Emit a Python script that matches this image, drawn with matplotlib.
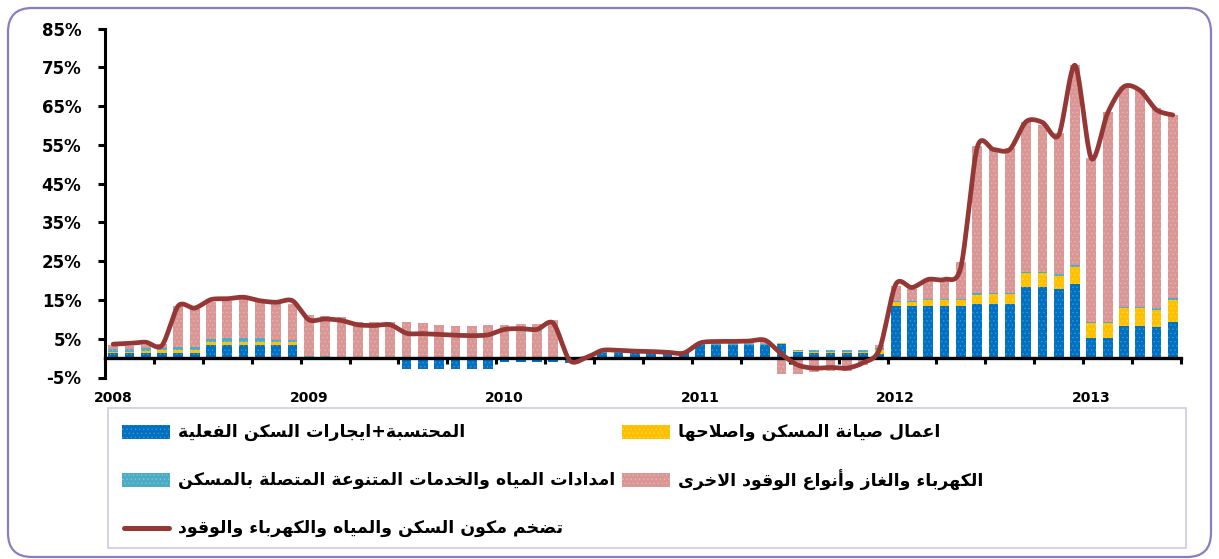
import numpy as np
import matplotlib
matplotlib.use("Agg")
import matplotlib.pyplot as plt
from matplotlib.patches import Rectangle, FancyBboxPatch
from matplotlib.lines import Line2D

# ---------------- data (monthly, Jan 2008 - Jun 2013, %) ----------------
year_labels = ["2008", "2009", "2010", "2011", "2012", "2013"]

rent = [1.4, 1.4, 1.4, 1.4, 1.4, 1.4, 3.3, 3.3, 3.3, 3.3, 3.3, 3.3,
        -0.6, -0.6, -0.6, -0.5, -0.5, -0.4, -2.8, -2.8, -2.8, -2.8, -2.8, -2.8,
        -1.0, -1.0, -1.0, -1.0, -1.2, -0.5, 1.2, 1.2, 1.2, 1.2, 1.2, 1.2,
        3.3, 3.3, 3.4, 3.4, 3.4, 3.7, 1.5, 1.4, 1.2, 1.2, 1.2, 1.1,
        13.5, 13.5, 13.5, 13.5, 13.5, 14.0, 14.0, 14.0, 18.3, 18.3, 17.8, 19.1,
        5.3, 5.3, 8.3, 8.3, 7.9, 9.4]

maintenance = [0.3, 0.3, 0.5, 0.6, 0.6, 0.6, 0.8, 0.9, 0.9, 0.8, 0.8, 0.8,
               0.3, 0.1, 0.1, 0.1, 0.1, 0.1, 0.0, 0.0, 0.0, 0.0, 0.0, 0.0,
               0.0, 0.0, 0.0, 0.0, 0.0, 0.0, 0.1, 0.1, 0.1, 0.1, 0.1, 0.1,
               0.1, 0.1, 0.1, 0.1, 0.1, 0.2, 0.3, 0.3, 0.3, 0.3, 0.3, 1.1,
               0.9, 0.9, 1.5, 1.5, 1.5, 2.4, 2.5, 2.5, 3.6, 3.6, 3.4, 4.3,
               3.7, 3.7, 4.6, 4.6, 4.5, 5.6]

water = [0.7, 0.7, 0.8, 0.7, 0.8, 0.8, 0.8, 1.0, 1.1, 1.1, 0.5, 0.5,
         0.3, 0.4, 0.3, 0.3, 0.2, 0.2, 0.1, 0.1, 0.1, 0.1, 0.1, 0.1,
         0.1, 0.1, 0.1, 0.1, 0.1, 0.1, 0.2, 0.2, 0.2, 0.2, 0.2, 0.2,
         0.2, 0.2, 0.2, 0.2, 0.2, 0.1, 0.3, 0.4, 0.5, 0.5, 0.5, 0.3,
         0.3, 0.3, 0.3, 0.3, 0.3, 0.4, 0.4, 0.4, 0.4, 0.4, 0.5, 0.6,
         0.4, 0.4, 0.4, 0.4, 0.5, 0.4]

electricity = [1.0, 0.6, 0.8, 0.9, 10.6, 9.8, 9.6, 9.6, 9.9, 9.3, 9.4, 9.4,
               10.4, 10.3, 10.2, 9.0, 8.9, 8.9, 9.2, 8.9, 8.5, 8.3, 8.2, 8.5,
               8.5, 8.7, 8.7, 9.6, 0.3, 0.5, 0.5, 0.5, 0.3, 0.2, 0.0, 0.1,
               0.3, 0.7, 0.5, 0.7, 0.9, -4.0, -4.0, -3.5, -3.2, -3.3, -1.7, 0.8,
               3.8, 3.0, 4.8, 4.8, 9.4, 37.8, 36.8, 37.3, 38.7, 37.8, 36.3, 51.5,
               42.2, 54.1, 56.7, 55.8, 51.6, 47.3]

total = [3.6, 3.8, 4.1, 3.3, 13.5, 12.9, 15.1, 15.3, 15.7, 14.8, 14.4, 14.8,
         9.9, 10.1, 9.7, 8.6, 8.4, 8.6, 6.4, 6.3, 6.1, 5.9, 5.8, 6.0,
         7.4, 7.6, 7.4, 9.0, -0.6, 0.1, 2.0, 2.0, 1.8, 1.7, 1.5, 1.3,
         3.9, 4.3, 4.3, 4.4, 4.6, 1.0, -1.8, -2.6, -2.4, -2.6, -1.2, 2.2,
         19.0, 18.2, 20.3, 20.3, 23.5, 54.3, 53.8, 53.8, 61.0, 60.8, 57.5, 75.5,
         51.5, 63.2, 70.0, 69.0, 64.0, 62.7]

legend_labels = [
    "المحتسبة+ايجارات السكن الفعلية",
    "اعمال صيانة المسكن واصلاحها",
    "امدادات المياه والخدمات المتنوعة المتصلة بالمسكن",
    "الكهرباء والغاز وأنواع الوقود الاخرى",
    "تضخم مكون السكن والمياه والكهرباء والوقود",
]

# ---------------- minimal Arabic shaping (matplotlib has no shaping) ----------------
DUAL = {'ب': 0xFE8F, 'ت': 0xFE95, 'ج': 0xFE9D, 'ح': 0xFEA1, 'خ': 0xFEA5, 'س': 0xFEB1,
        'ص': 0xFEB9, 'ض': 0xFEBD, 'ع': 0xFEC9, 'غ': 0xFECD, 'ف': 0xFED1, 'ق': 0xFED5,
        'ك': 0xFED9, 'ل': 0xFEDD, 'م': 0xFEE1, 'ن': 0xFEE5, 'ه': 0xFEE9, 'ي': 0xFEF1}
RIGHT = {'أ': 0xFE83, 'ا': 0xFE8D, 'ة': 0xFE93, 'د': 0xFEA9, 'ر': 0xFEAD, 'ز': 0xFEAF,
         'و': 0xFEED, 'ى': 0xFEEF}
NONE = {'ء': 0xFE80}
LAMALEF = {'ا': 0xFEFB, 'أ': 0xFEF7}


def shape(s):
    out = []
    prev = False
    i, n = 0, len(s)
    while i < n:
        c = s[i]
        if c == 'ل' and i + 1 < n and s[i + 1] in LAMALEF:
            out.append(chr(LAMALEF[s[i + 1]] + (1 if prev else 0)))
            prev = False
            i += 2
            continue
        if c in DUAL:
            nxt = s[i + 1] if i + 1 < n else ''
            conn = nxt in DUAL or nxt in RIGHT
            b = DUAL[c]
            if prev and conn:
                f = b + 3
            elif prev:
                f = b + 1
            elif conn:
                f = b + 2
            else:
                f = b
            out.append(chr(f))
            prev = conn
        elif c in RIGHT:
            out.append(chr(RIGHT[c] + (1 if prev else 0)))
            prev = False
        elif c in NONE:
            out.append(chr(NONE[c]))
            prev = False
        else:
            out.append(c)
            prev = False
        i += 1
    return ''.join(reversed(out))


def smooth(xs, ys, steps=24, k=7.0):
    P = np.column_stack([xs, ys]).astype(float)
    segs = []
    for i in range(len(P) - 1):
        p0 = P[i - 1] if i > 0 else P[i]
        p1, p2 = P[i], P[i + 1]
        p3 = P[i + 2] if i + 2 < len(P) else P[i + 1]
        c1 = p1 + (p2 - p0) / k
        c2 = p2 - (p3 - p1) / k
        t = np.linspace(0, 1, steps)[:, None]
        seg = (1 - t) ** 3 * p1 + 3 * (1 - t) ** 2 * t * c1 + 3 * (1 - t) * t ** 2 * c2 + t ** 3 * p2
        segs.append(seg if i == 0 else seg[1:])
    return np.vstack(segs)


# ---------------- figure ----------------
W, H = 1219, 559
plt.rcParams['hatch.linewidth'] = 0.5
fig = plt.figure(figsize=(W / 100, H / 100), dpi=100)
fig.patch.set_facecolor('white')

ax_l, ax_r, ax_t, ax_b = 105, 1181, 28.5, 377.5
ax = fig.add_axes([ax_l / W, 1 - ax_b / H, (ax_r - ax_l) / W, (ax_b - ax_t) / H])
ax.set_facecolor('none')

n = len(rent)
x = np.arange(n)
colors = ['#0070C0', '#FFC000', '#4BACC6', '#D99694']
hatchc = ['#3F95D6', '#FFD54D', '#7CC4D8', '#E6B5B3']
series = [rent, maintenance, water, electricity]
pos = np.zeros(n)
neg = np.zeros(n)
for vals, col, hc in zip(series, colors, hatchc):
    v = np.asarray(vals, dtype=float)
    bottom = np.where(v >= 0, pos, neg)
    ax.bar(x, v, bottom=bottom, width=0.6, color=col, edgecolor=hc, linewidth=0,
           hatch='....', zorder=2)
    pos += np.where(v >= 0, v, 0)
    neg += np.where(v < 0, v, 0)

curve = smooth(x, total)
ax.plot(curve[:, 0], curve[:, 1], color='#953735', lw=3.4, solid_capstyle='round',
        solid_joinstyle='round', zorder=4)

ax.set_xlim(-0.5, n - 0.5)
ax.set_ylim(-5, 85)
for s in ['top', 'right']:
    ax.spines[s].set_visible(False)
ax.spines['left'].set_linewidth(2.2)
ax.spines['bottom'].set_position(('data', 0))
ax.spines['bottom'].set_linewidth(2.4)
ax.spines['bottom'].set_zorder(3)

yt = np.arange(-5, 86, 10)
ax.set_yticks(yt)
ax.set_yticklabels([f"{v}%" for v in yt], fontsize=12, fontweight='bold',
                   family='DejaVu Sans')
ax.tick_params(axis='y', direction='out', length=5, width=2.2, pad=12)

ax.set_xticks([])
ax.set_xticks(np.arange(-0.5, n, 3), minor=True)
ax.tick_params(axis='x', which='minor', direction='out', length=4.3, width=2.2,
               labelbottom=False)
for k, lab in enumerate(year_labels):
    ax.annotate(lab, xy=(12 * k, 0), xycoords=('data', 'axes fraction'),
                xytext=(0, -14.5), textcoords='offset points', ha='center', va='center',
                fontsize=10, fontweight='bold', family='DejaVu Sans')

# ---------------- overlay: border + legend (pixel coordinates) ----------------
ov = fig.add_axes([0, 0, 1, 1], zorder=5)
ov.set_xlim(0, W)
ov.set_ylim(H, 0)
ov.axis('off')
ov.patch.set_alpha(0)

ov.add_patch(FancyBboxPatch((8, 8), W - 16, H - 10, boxstyle='round,pad=0,rounding_size=24',
                            fill=False, edgecolor='#8E7CC3', lw=1.6))
ov.add_patch(Rectangle((108, 408), 1078, 140, fill=False, edgecolor='#D0CAE0', lw=1.2))

rows = [432, 480, 528]
items = [(0, 122, rows[0], 'bar'), (1, 622, rows[0], 'bar'),
         (2, 122, rows[1], 'bar'), (3, 622, rows[1], 'bar'),
         (4, 122, rows[2], 'line')]
for idx, sx, sy, kind in items:
    if kind == 'bar':
        ov.add_patch(Rectangle((sx, sy - 7), 48, 14, facecolor=colors[idx],
                               edgecolor=hatchc[idx], lw=0, hatch='....'))
    else:
        ov.add_line(Line2D([sx + 2, sx + 47], [sy, sy], color='#953735', lw=3.6,
                           solid_capstyle='round'))
    ov.text(sx + 56, sy, shape(legend_labels[idx]), ha='left', va='center',
            fontsize=12.5, fontweight='bold', family='DejaVu Sans')

fig.savefig('out.png', dpi=100, facecolor='white')
